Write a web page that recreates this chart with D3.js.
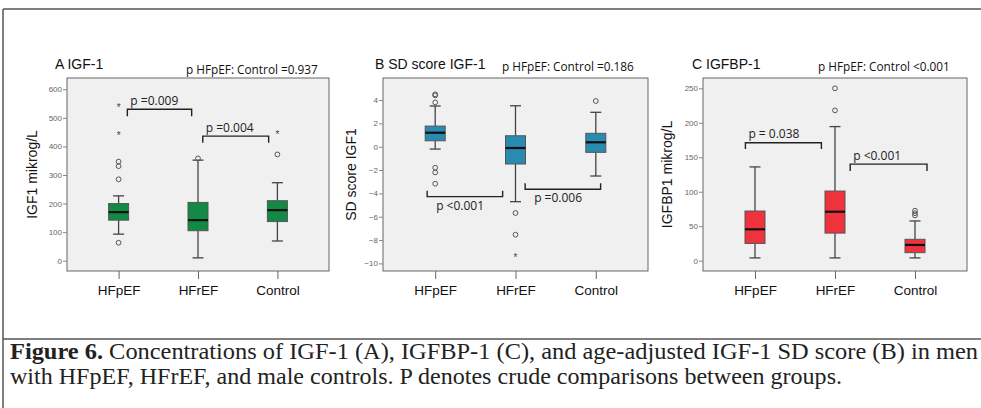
<!DOCTYPE html>
<html><head><meta charset="utf-8">
<script src="https://cdn.jsdelivr.net/npm/d3@7"></script>
<style>body{margin:0;background:#fff}svg{display:block}</style>
</head><body>
<svg id="c" width="981" height="408"></svg>
<script>
// ---------- data ----------
const categories = ["HFpEF", "HFrEF", "Control"];

// five-number summaries [lowWhisker, q1, median, q3, highWhisker]
const igf1Boxes  = [[93, 142, 170, 200, 227], [10, 105, 142, 204, 352], [69, 137, 177, 210, 273]];
const igf1Circles = [[63, 285, 331, 347], [358], [372]];
const igf1Stars   = [[539, 443], [], [446]];
const igf1Ticks   = [0, 100, 200, 300, 400, 500, 600];

const sdsBoxes   = [[-0.2, 0.51, 1.2, 1.77, 3.49], [-4.71, -1.48, -0.11, 0.94, 3.51], [-2.51, -0.48, 0.38, 1.15, 2.95]];
const sdsCircles = [[4.49, 4.4, 3.8, -1.8, -2.2, -3.17], [-5.68, -7.54], [3.92]];
const sdsStars   = [[], [-9.37], []];
const sdsTicks   = [-10, -8, -6, -4, -2, 0, 2, 4];

const bp1Boxes   = [[4, 25, 45.5, 72, 136], [4, 40, 71, 101, 194.5], [4, 11.6, 22.8, 31, 57.6]];
const bp1Circles = [[], [250, 218], [72.5, 68.8, 65.5]];
const bp1Stars   = [[], [], []];
const bp1Ticks   = [0, 50, 100, 150, 200, 250];

// brackets: [fromIndex, toIndex, barValue, legValue, label]
const igf1Brackets = [[0.11, 0.92, 530, 506, "p =0.009"], [1.06, 1.89, 436, 413, "p =0.004"]];
const sdsBrackets  = [[-0.10, 0.84, -4.28, -3.77, "p <0.001"], [1.12, 2.06, -3.65, -3.14, "p =0.006"]];
const bp1Brackets  = [[-0.12, 0.83, 171, 162, "p = 0.038"], [1.19, 2.15, 140, 130, "p <0.001"]];

const panels = [
  {title: "A IGF-1", ptext: "p HFpEF: Control =0.937", ylab: "IGF1 mikrog/L", boxes: igf1Boxes, circles: igf1Circles, stars: igf1Stars,
   ticks: igf1Ticks, brackets: igf1Brackets, domain: [-36, 639.5], color: "#128a45",
   left: 67, right: 329, titleX: 55, ptextX: 186, ptextY: 74, ylabX: 37, bracketLabelAbove: true},
  {title: "B SD score IGF-1", ptext: "p HFpEF: Control =0.186", ylab: "SD score IGF1", boxes: sdsBoxes, circles: sdsCircles, stars: sdsStars,
   ticks: sdsTicks, brackets: sdsBrackets, domain: [-10.65, 5.89], color: "#2a8bb0",
   left: 383, right: 648, titleX: 375, ptextX: 502, ptextY: 71, ylabX: 356, bracketLabelAbove: false},
  {title: "C IGFBP-1", ptext: "p HFpEF: Control <0.001", ylab: "IGFBP1 mikrog/L", boxes: bp1Boxes, circles: bp1Circles, stars: bp1Stars,
   ticks: bp1Ticks, brackets: bp1Brackets, domain: [-15, 265], color: "#ee323e",
   left: 703, right: 967, titleX: 692, ptextX: 818, ptextY: 71, ylabX: 672, bracketLabelAbove: true}
];

const captionLines = [
  ["Figure 6.", " Concentrations of IGF-1 (A), IGFBP-1 (C), and age-adjusted IGF-1 SD score (B) in men"],
  ["", "with HFpEF, HFrEF, and male controls. P denotes crude comparisons between groups."]
];

// ---------- drawing ----------
const svg = d3.select("#c");
const TOP = 78, BOTTOM = 271;
const sans = "'Liberation Sans', Arial, sans-serif";
const psans = "'Open Sans', 'Noto Sans', sans-serif";

// frame
svg.append("line").attr("x1", 3).attr("x2", 981).attr("y1", 9).attr("y2", 9).attr("stroke", "#555").attr("stroke-width", 1.5);
svg.append("line").attr("x1", 3).attr("x2", 3).attr("y1", 9).attr("y2", 408).attr("stroke", "#555").attr("stroke-width", 1.5);
svg.append("line").attr("x1", 3).attr("x2", 981).attr("y1", 339).attr("y2", 339).attr("stroke", "#555").attr("stroke-width", 1.5);

panels.forEach(p => {
  const g = svg.append("g");
  const x = d3.scaleLinear().domain([-0.65, 2.65]).range([p.left, p.right]);
  const y = d3.scaleLinear().domain(p.domain).range([BOTTOM, TOP]);

  g.append("rect").attr("x", p.left).attr("y", TOP).attr("width", p.right - p.left).attr("height", BOTTOM - TOP)
    .attr("fill", "#f0f0f0").attr("stroke", "#666").attr("stroke-width", 1);

  // y axis
  const ya = g.append("g").attr("transform", `translate(${p.left},0)`)
    .call(d3.axisLeft(y).tickValues(p.ticks).tickSize(4).tickPadding(1).tickFormat(d3.format("d")));
  ya.select(".domain").remove();
  ya.selectAll("line").attr("stroke", "#888");
  ya.selectAll("text").attr("fill", "#666").style("font", `8px ${sans}`);

  // x axis
  const xa = g.append("g").attr("transform", `translate(0,${BOTTOM})`)
    .call(d3.axisBottom(x).tickValues([0, 1, 2]).tickSize(8).tickPadding(6).tickFormat(i => categories[i]));
  xa.select(".domain").remove();
  xa.selectAll("line").attr("stroke", "#666");
  xa.selectAll("text").attr("fill", "#111").style("font", `13.5px ${sans}`);

  const bw = 20, cw = 11;
  p.boxes.forEach((b, i) => {
    const cx = x(i);
    const [lo, q1, med, q3, hi] = b;
    g.append("line").attr("x1", cx).attr("x2", cx).attr("y1", y(hi)).attr("y2", y(q3)).attr("stroke", "#444").attr("stroke-width", 1.3);
    g.append("line").attr("x1", cx).attr("x2", cx).attr("y1", y(q1)).attr("y2", y(lo)).attr("stroke", "#444").attr("stroke-width", 1.3);
    g.append("line").attr("x1", cx - cw / 2).attr("x2", cx + cw / 2).attr("y1", y(hi)).attr("y2", y(hi)).attr("stroke", "#444").attr("stroke-width", 1.3);
    g.append("line").attr("x1", cx - cw / 2).attr("x2", cx + cw / 2).attr("y1", y(lo)).attr("y2", y(lo)).attr("stroke", "#444").attr("stroke-width", 1.3);
    g.append("rect").attr("x", cx - bw / 2).attr("y", y(q3)).attr("width", bw).attr("height", y(q1) - y(q3))
      .attr("fill", p.color).attr("stroke", "#555").attr("stroke-width", 1);
    g.append("line").attr("x1", cx - bw / 2).attr("x2", cx + bw / 2).attr("y1", y(med)).attr("y2", y(med)).attr("stroke", "#111").attr("stroke-width", 2.2);
    p.circles[i].forEach(v => {
      g.append("circle").attr("cx", cx).attr("cy", y(v)).attr("r", 2.4).attr("fill", "none").attr("stroke", "#555").attr("stroke-width", 1);
    });
    p.stars[i].forEach(v => {
      g.append("text").attr("x", cx).attr("y", y(v) + 4.5).attr("text-anchor", "middle").attr("fill", "#444")
        .style("font", `10px ${sans}`).text("*");
    });
  });

  // brackets
  p.brackets.forEach(([a, b, bar, leg, label]) => {
    const path = d3.path();
    path.moveTo(x(a), y(leg)); path.lineTo(x(a), y(bar)); path.lineTo(x(b), y(bar)); path.lineTo(x(b), y(leg));
    g.append("path").attr("d", path.toString()).attr("fill", "none").attr("stroke", "#222").attr("stroke-width", 1.4);
    const ty = p.bracketLabelAbove ? y(bar) - 4.5 : y(bar) + 13;
    g.append("text").attr("x", x(a) + (p.bracketLabelAbove ? 3 : 9)).attr("y", ty).attr("fill", "#222")
      .style("font", `12px ${psans}`).text(label);
  });

  // titles
  g.append("text").attr("x", p.titleX).attr("y", 69).attr("fill", "#111").style("font", `14px ${sans}`).text(p.title);
  g.append("text").attr("x", p.ptextX).attr("y", p.ptextY).attr("fill", "#111").style("font", `11.8px ${psans}`).text(p.ptext);
  g.append("text").attr("transform", `translate(${p.ylabX},${(TOP + BOTTOM) / 2}) rotate(-90)`).attr("text-anchor", "middle")
    .attr("fill", "#111").style("font", `14px ${sans}`).text(p.ylab);
});

// caption
const serif = "'Liberation Serif', 'Times New Roman', serif";
const capW = [968, 832];
captionLines.forEach((ln, i) => {
  const t = svg.append("text").attr("x", 10).attr("y", 359 + i * 25).attr("fill", "#222")
    .style("font", `23px ${serif}`).attr("textLength", capW[i]).attr("lengthAdjust", "spacingAndGlyphs");
  if (ln[0]) t.append("tspan").attr("font-weight", "bold").text(ln[0]);
  t.append("tspan").text(ln[1]);
});
</script>
</body></html>
